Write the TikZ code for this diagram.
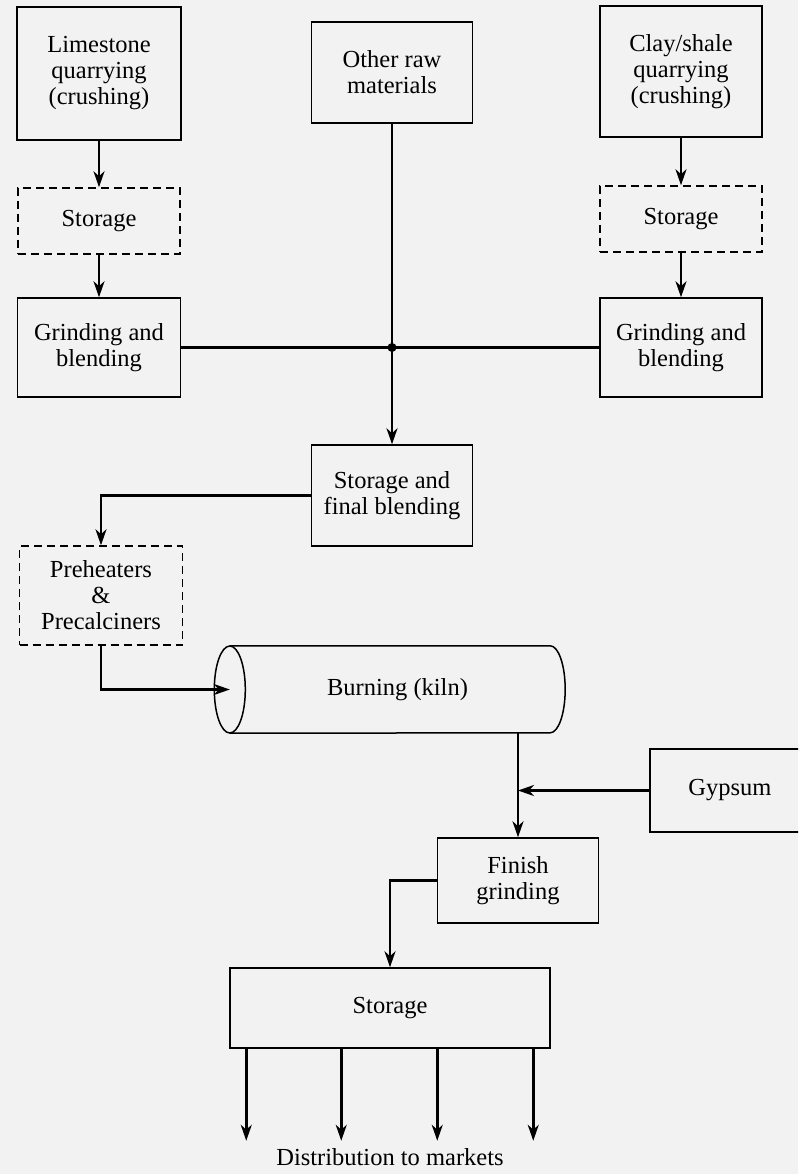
\documentclass[tikz,border=0pt]{standalone}
\usepackage{fontspec}
\setmainfont{Liberation Serif}
\usetikzlibrary{arrows.meta}
\definecolor{paper}{HTML}{F2F2F2}

\begin{document}
\begin{tikzpicture}[x=1pt,y=-1pt,>={Stealth[length=16pt,width=11pt,inset=5pt]},
  font=\fontsize{24.5}{26}\selectfont,
  box/.style={draw,line width=1.5pt,align=center,inner sep=0pt},
  dbox/.style={box,dash pattern=on 8pt off 5pt},
  flow/.style={->,line width=2.5pt}]
\fill[paper] (0,0) rectangle (798,1174);
\clip (0,0) rectangle (798,1174);

% raw materials
\node[box,minimum width=164pt,minimum height=133pt] (lime) at (99,73.5) {Limestone\\quarrying\\(crushing)};
\node[box,minimum width=161pt,minimum height=101pt] (other) at (392,72.5) {Other raw\\materials};
\node[box,minimum width=162pt,minimum height=131pt] (clay) at (681,71.5) {Clay/shale\\quarrying\\(crushing)};
\node[dbox,minimum width=162pt,minimum height=66pt] (store1) at (99,221) {Storage};
\node[dbox,minimum width=162pt,minimum height=66pt] (store2) at (681,219) {Storage};
\node[box,minimum width=163pt,minimum height=99pt] (grind1) at (99,347.5) {Grinding and\\blending};
\node[box,minimum width=162pt,minimum height=99pt] (grind2) at (681,347.5) {Grinding and\\blending};
\coordinate (mix) at (392,347.5);

% burning
\node[box,minimum width=161pt,minimum height=101pt] (final) at (392,495.5) {Storage and\\final blending};
\node[dbox,minimum width=163pt,minimum height=99pt] (preheat) at (101,595.5) {Preheaters\\\&\\Precalciners};
\node[inner sep=0pt,minimum width=335pt,minimum height=87pt] (kiln) at (397.5,689.5) {Burning (kiln)};
\draw[line width=1.5pt] (kiln.north west) -- ([xshift=-15pt]kiln.north east)
  arc[start angle=90,end angle=-90,x radius=15pt,y radius=43.5pt] -- (kiln.south west);
\draw[line width=1.5pt] (kiln.west) ellipse [x radius=15.5pt,y radius=43.5pt];

% finishing
\node[box,minimum width=160pt,minimum height=83pt] (gypsum) at (730,790.5) {Gypsum};
\node[box,minimum width=161pt,minimum height=85pt] (finish) at (518,880.5) {Finish\\grinding};
\node[box,minimum width=320pt,minimum height=80pt] (storage) at (390,1008) {Storage};
\node (dist) at (390,1157) {Distribution to markets};

\draw[flow] (lime) -- (store1);
\draw[flow] (store1) -- (grind1);
\draw[flow] (clay) -- (store2);
\draw[flow] (store2) -- (grind2);
\draw[line width=2.5pt] (grind1) -- (mix) -- (grind2);
\draw[flow] (other) -- (final);
\fill (mix) circle (4.5pt);
\draw[flow] (final.west) -| (preheat.north);
\draw[flow] (preheat.south) |- (kiln.west);
\draw[flow] (kiln.south -| finish) -- (finish);
\draw[flow] (gypsum) -- (gypsum -| finish);
\draw[flow] (finish.west) -| (storage.north);
\foreach \x in {17,112,208,304}
  \draw[flow] ([xshift=\x pt]storage.south west) -- ++(0,92);
\end{tikzpicture}
\end{document}
